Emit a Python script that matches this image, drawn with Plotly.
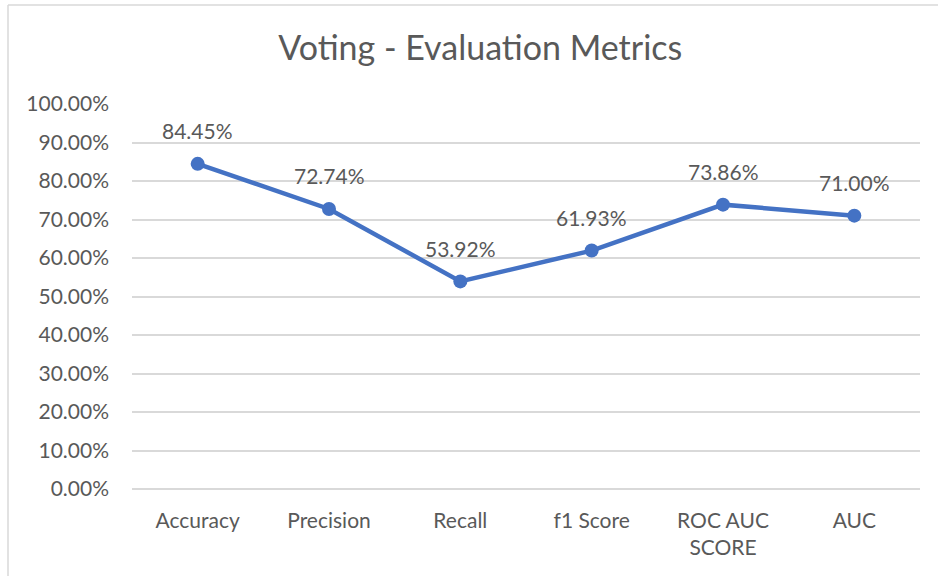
import plotly.graph_objects as go

# Evaluation metrics of the voting classifier
metrics = ["Accuracy", "Precision", "Recall", "f1 Score", "ROC AUC<br>SCORE", "AUC"]
scores = [0.8445, 0.7274, 0.5392, 0.6193, 0.7386, 0.7100]
y_ticks = [0.0, 0.1, 0.2, 0.3, 0.4, 0.5, 0.6, 0.7, 0.8, 0.9, 1.0]

LINE_BLUE = "#4472C4"
TEXT_GREY = "#595959"
GRID_GREY = "#D9D9D9"
FONT = "Lato, 'Open Sans', sans-serif"

fig = go.Figure()
fig.add_trace(go.Scatter(
    x=list(range(len(metrics))),
    y=scores,
    mode="lines+markers",
    line=dict(color=LINE_BLUE, width=4.5),
    marker=dict(color=LINE_BLUE, size=14),
    hoverinfo="skip",
    showlegend=False,
))

# value labels above each point
for i, v in enumerate(scores):
    fig.add_annotation(
        x=i, y=v, text=f"{v * 100:.2f}%",
        showarrow=False, yshift=33, yanchor="middle",
        font=dict(family=FONT, size=21, color=TEXT_GREY),
    )

# chart-area border (left and top edges)
fig.add_shape(type="line", xref="paper", yref="paper",
              x0=(8 - 132) / 788, x1=(8 - 132) / 788, y0=-0.3, y1=(489 - 5) / 385,
              line=dict(color=GRID_GREY, width=1.5))
fig.add_shape(type="line", xref="paper", yref="paper",
              x0=(8 - 132) / 788, x1=1.1, y0=(489 - 5) / 385, y1=(489 - 5) / 385,
              line=dict(color=GRID_GREY, width=1.5))

fig.update_layout(
    width=938, height=576,
    margin=dict(l=132, r=18, t=104, b=87),
    paper_bgcolor="white", plot_bgcolor="white",
    title=dict(text="Voting - Evaluation Metrics", x=0.512, xanchor="center",
               y=1 - 48 / 576, yanchor="middle",
               font=dict(family=FONT, size=34, color=TEXT_GREY)),
    font=dict(family=FONT, color=TEXT_GREY),
    xaxis=dict(
        tickmode="array", tickvals=list(range(len(metrics))), ticktext=metrics,
        range=[-0.5, len(metrics) - 0.5], showgrid=False, zeroline=False,
        showline=False, ticks="", tickfont=dict(family=FONT, size=21, color=TEXT_GREY),
        ticklabelstandoff=17,
    ),
    yaxis=dict(
        range=[0, 1], tickmode="array", tickvals=y_ticks,
        ticktext=[f"{t * 100:.2f}%" for t in y_ticks],
        showgrid=True, gridcolor=GRID_GREY, gridwidth=1.5,
        zeroline=True, zerolinecolor=GRID_GREY, zerolinewidth=1.5,
        showline=False, ticks="", ticklabelstandoff=22,
        tickfont=dict(family=FONT, size=21, color=TEXT_GREY),
    ),
)

fig.write_html("out.html")
